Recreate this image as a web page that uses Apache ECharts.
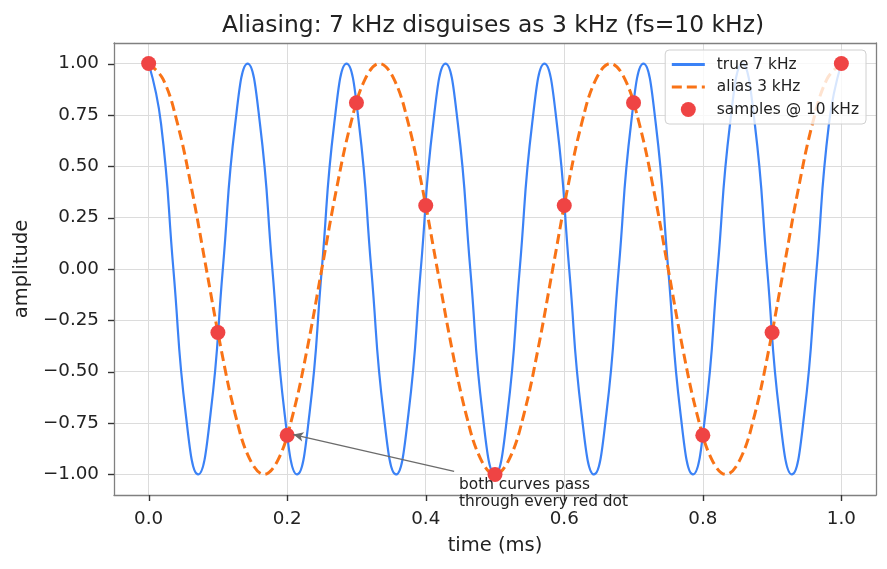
<!DOCTYPE html>
<html>
<head>
<meta charset="utf-8">
<title>Aliasing</title>
<script src="https://cdn.jsdelivr.net/npm/echarts@6/dist/echarts.min.js"></script>
<style>
  html, body { margin: 0; padding: 0; background: #fff; }
  #chart { width: 887px; height: 569px; }
</style>
</head>
<body>
<div id="chart"></div>
<script>
// true 7 kHz curve, read at every 1/8 of its period (ms)
const trueTime = [
  0, 0.0179, 0.0357, 0.0536, 0.0714, 0.0893, 0.1071, 0.125,
  0.1429, 0.1607, 0.1786, 0.1964, 0.2143, 0.2321, 0.25, 0.2679,
  0.2857, 0.3036, 0.3214, 0.3393, 0.3571, 0.375, 0.3929, 0.4107,
  0.4286, 0.4464, 0.4643, 0.4821, 0.5, 0.5179, 0.5357, 0.5536,
  0.5714, 0.5893, 0.6071, 0.625, 0.6429, 0.6607, 0.6786, 0.6964,
  0.7143, 0.7321, 0.75, 0.7679, 0.7857, 0.8036, 0.8214, 0.8393,
  0.8571, 0.875, 0.8929, 0.9107, 0.9286, 0.9464, 0.9643, 0.9821,
  1.0
];
const trueAmp = [
  1, 0.707, 0, -0.707, -1, -0.707, 0, 0.707,
  1, 0.707, 0, -0.707, -1, -0.707, 0, 0.707,
  1, 0.707, 0, -0.707, -1, -0.707, 0, 0.707,
  1, 0.707, 0, -0.707, -1, -0.707, 0, 0.707,
  1, 0.707, 0, -0.707, -1, -0.707, 0, 0.707,
  1, 0.707, 0, -0.707, -1, -0.707, 0, 0.707,
  1, 0.707, 0, -0.707, -1, -0.707, 0, 0.707,
  1
];
// alias 3 kHz curve, read at every 1/16 of its period (ms)
const aliasTime = [
  0, 0.0208, 0.0417, 0.0625, 0.0833, 0.1042, 0.125, 0.1458,
  0.1667, 0.1875, 0.2083, 0.2292, 0.25, 0.2708, 0.2917, 0.3125,
  0.3333, 0.3542, 0.375, 0.3958, 0.4167, 0.4375, 0.4583, 0.4792,
  0.5, 0.5208, 0.5417, 0.5625, 0.5833, 0.6042, 0.625, 0.6458,
  0.6667, 0.6875, 0.7083, 0.7292, 0.75, 0.7708, 0.7917, 0.8125,
  0.8333, 0.8542, 0.875, 0.8958, 0.9167, 0.9375, 0.9583, 0.9792,
  1.0
];
const aliasAmp = [
  1, 0.924, 0.707, 0.383, 0, -0.383, -0.707, -0.924,
  -1, -0.924, -0.707, -0.383, 0, 0.383, 0.707, 0.924,
  1, 0.924, 0.707, 0.383, 0, -0.383, -0.707, -0.924,
  -1, -0.924, -0.707, -0.383, 0, 0.383, 0.707, 0.924,
  1, 0.924, 0.707, 0.383, 0, -0.383, -0.707, -0.924,
  -1, -0.924, -0.707, -0.383, 0, 0.383, 0.707, 0.924,
  1
];
// samples at fs = 10 kHz
const sampleTime = [0, 0.1, 0.2, 0.3, 0.4, 0.5, 0.6, 0.7, 0.8, 0.9, 1.0];
const sampleAmp = [1, -0.309, -0.809, 0.809, 0.309, -1, 0.309, 0.809, -0.809, -0.309, 1];

const xTicks = [0, 0.2, 0.4, 0.6, 0.8, 1.0];
const yTicks = [-1, -0.75, -0.5, -0.25, 0, 0.25, 0.5, 0.75, 1];

const X_MIN = -0.05, X_MAX = 1.05, Y_MIN = -1.1, Y_MAX = 1.1;
const FONT = 'DejaVu Sans';
const SPINE = { show: true, onZero: false, lineStyle: { color: '#808080', width: 1.3 } };
const pair = (xs, ys) => xs.map((x, i) => [x, ys[i]]);
// typographic minus sign for negative tick labels
const fmt = (v, d) => (v < 0 ? '\u2212' : '') + Math.abs(v).toFixed(d);

const chart = echarts.init(document.getElementById('chart'));

chart.setOption({
  animation: false,
  backgroundColor: '#fff',
  title: {
    text: 'Aliasing: 7 kHz disguises as 3 kHz (fs=10 kHz)',
    left: 488, top: 9, textAlign: 'center',
    textStyle: { fontFamily: FONT, fontSize: 23.4, fontWeight: 'normal', color: '#222' }
  },
  grid: { left: 114, right: 11, top: 43, bottom: 74, show: false },
  legend: {
    orient: 'vertical',
    right: 21, top: 50,
    padding: [7, 7, 7, 5],
    itemWidth: 33, itemHeight: 15, itemGap: 7.5,
    backgroundColor: 'rgba(255,255,255,0.8)',
    borderColor: '#d0d0d0', borderWidth: 1, borderRadius: 4,
    textStyle: { fontFamily: FONT, fontSize: 15.4, color: '#222', padding: [0, 0, 0, 7] },
    data: [
      { name: 'true 7 kHz', itemStyle: { opacity: 0 }, lineStyle: { width: 3, color: '#3b82f6' } },
      { name: 'alias 3 kHz', itemStyle: { opacity: 0 }, lineStyle: { width: 3.2, color: '#f97316', type: [10, 5] } },
      { name: 'samples @ 10 kHz' }
    ]
  },
  xAxis: [
    {
      type: 'value', position: 'bottom', min: X_MIN, max: X_MAX,
      name: 'time (ms)', nameLocation: 'middle', nameGap: 41,
      nameTextStyle: { fontFamily: FONT, fontSize: 19.5, color: '#222' },
      axisLine: SPINE,
      axisTick: { show: false, customValues: xTicks },
      axisLabel: {
        fontFamily: FONT, fontSize: 18.3, color: '#222', margin: 15,
        customValues: xTicks, formatter: v => fmt(v, 1)
      },
      splitLine: { show: true, lineStyle: { color: '#dcdcdc', width: 1 } }
    },
    {
      // top spine only
      type: 'value', position: 'top', min: X_MIN, max: X_MAX,
      axisLine: SPINE, axisTick: { show: false }, axisLabel: { show: false }, splitLine: { show: false }
    }
  ],
  yAxis: [
    {
      type: 'value', position: 'left', min: Y_MIN, max: Y_MAX,
      name: 'amplitude', nameLocation: 'middle', nameGap: 82,
      nameTextStyle: { fontFamily: FONT, fontSize: 19.5, color: '#222' },
      axisLine: SPINE,
      axisTick: { show: false, customValues: yTicks },
      axisLabel: {
        fontFamily: FONT, fontSize: 18.3, color: '#222', margin: 15,
        customValues: yTicks, formatter: v => fmt(v, 2)
      },
      splitLine: { show: true, lineStyle: { color: '#dcdcdc', width: 1 } }
    },
    {
      // right spine only
      type: 'value', position: 'right', min: Y_MIN, max: Y_MAX,
      axisLine: SPINE, axisTick: { show: false }, axisLabel: { show: false }, splitLine: { show: false }
    }
  ],
  series: [
    {
      name: 'true 7 kHz', type: 'line', data: pair(trueTime, trueAmp),
      smooth: 0.5, showSymbol: false, symbol: 'none', z: 2,
      lineStyle: { color: '#3b82f6', width: 2.2 }, itemStyle: { color: '#3b82f6' }
    },
    {
      name: 'alias 3 kHz', type: 'line', data: pair(aliasTime, aliasAmp),
      smooth: 0.4, showSymbol: false, symbol: 'none', z: 3,
      lineStyle: { color: '#f97316', width: 3, type: [10, 5] }, itemStyle: { color: '#f97316' }
    },
    {
      name: 'samples @ 10 kHz', type: 'scatter', data: pair(sampleTime, sampleAmp),
      symbol: 'circle', symbolSize: 15, z: 4,
      itemStyle: { color: '#ef4444', opacity: 1 },
      markLine: {
        silent: true, animation: false,
        symbol: ['none', 'arrow'], symbolSize: [7, 10],
        label: { show: false },
        lineStyle: { color: '#6b6b6b', width: 1.3, type: 'solid' },
        data: [[{ coord: [0.441, -0.985] }, { coord: [0.209, -0.806] }]]
      }
    }
  ]
});

// outward tick marks at the tick values, positioned through the axes' scales
const toPx = (x, y) => chart.convertToPixel({ xAxisIndex: 0, yAxisIndex: 0 }, [x, y]);
const TICK_LEN = 6;
const bottomY = toPx(0, Y_MIN)[1];
const leftX = toPx(X_MIN, 0)[0];
const graphics = [];
xTicks.forEach(v => {
  const px = Math.round(toPx(v, 0)[0]) + 0.5;
  graphics.push({ type: 'line', silent: true, z: 50,
    shape: { x1: px, y1: bottomY, x2: px, y2: bottomY + TICK_LEN },
    style: { stroke: '#333', lineWidth: 1.4 } });
});
yTicks.forEach(v => {
  const py = Math.round(toPx(0, v)[1]) + 0.5;
  graphics.push({ type: 'line', silent: true, z: 50,
    shape: { x1: leftX - TICK_LEN, y1: py, x2: leftX, y2: py },
    style: { stroke: '#333', lineWidth: 1.4 } });
});

// annotation text anchored at a data position
const p = toPx(0.448, -1.01);
graphics.push({
  type: 'text', left: p[0], top: p[1], z: 50,
  style: {
    text: 'both curves pass\nthrough every red dot',
    fontFamily: FONT, fontSize: 15.4, fill: '#222', lineHeight: 17
  }
});
chart.setOption({ graphic: graphics });
</script>
</body>
</html>
